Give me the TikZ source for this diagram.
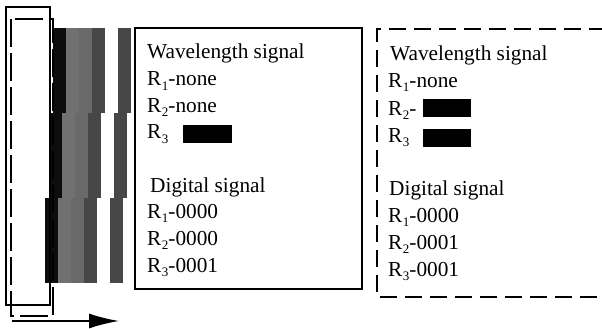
\documentclass[tikz,border=0pt]{standalone}
\usepackage{fontspec}
\setmainfont{Liberation Serif}
\usetikzlibrary{arrows.meta}
\definecolor{barblack}{HTML}{0D0D0D}
\definecolor{barlight}{HTML}{717171}
\definecolor{barmid}{HTML}{696969}
\definecolor{bardark}{HTML}{474747}
\tikzset{
  txt/.style={anchor=base west, inner sep=0pt, font=\fontsize{21.3}{25}\selectfont},
  frame/.style={draw=black, line width=1.2pt},
  longdash/.style={draw=black, line width=1.2pt, dash pattern=on 28pt off 6pt},
  boxdash/.style={draw=black, line width=1.2pt, dash pattern=on 17pt off 8pt},
  mark box/.style={fill=black},
}
\newcommand{\Rsub}[1]{R\kern0.5pt\raisebox{-4.5pt}{\fontsize{13}{13}\selectfont #1}}
\begin{document}
\begin{tikzpicture}[x=1pt, y=-1pt]
\useasboundingbox (0,0) rectangle (602,329);

% stepped colour bars, three rows shifted left row by row
\foreach \x/\ya/\yb in {53/28/113, 49/113/198, 45/198/283}{
  \fill[barblack] (\x,\ya) rectangle ++(13,\yb-\ya);
  \fill[barlight] (\x+13,\ya) rectangle ++(13,\yb-\ya);
  \fill[barmid]   (\x+26,\ya) rectangle ++(13,\yb-\ya);
  \fill[bardark]  (\x+39,\ya) rectangle ++(13,\yb-\ya);
  \fill[bardark]  (\x+65,\ya) rectangle ++(13,\yb-\ya);
}

% solid and dashed frames on the left
\draw[frame] (6,7) rectangle (50,305);
\draw[longdash] (11,19) rectangle (53,316);

% direction arrow
\coordinate (arrowstart) at (12,321);
\coordinate (arrowend) at (119,321);
\draw[line width=1.6pt, -{Latex[length=30pt, width=15pt]}] (arrowstart) -- (arrowend);

% middle box
\draw[frame] (135,28) rectangle (362,289);
\node[txt] (mw)  at (147,59)   {Wavelength signal};
\node[txt] (mr1) at (147,85.5) {\Rsub{1}-none};
\node[txt] (mr2) at (147,112)  {\Rsub{2}-none};
\node[txt] (mr3) at (147,138.5){\Rsub{3}};
\fill[mark box] (183,125) rectangle (232,143);
\node[txt] (md)  at (150,192)  {Digital signal};
\node[txt] (md1) at (147,218)  {\Rsub{1}-0000};
\node[txt] (md2) at (147,245)  {\Rsub{2}-0000};
\node[txt] (md3) at (147,272)  {\Rsub{3}-0001};

% right box, open on the right
\draw[boxdash] (606,29) -- (377,29) -- (377,297) -- (606,297);
\node[txt] (rw)  at (390,60)  {Wavelength signal};
\node[txt] (rr1) at (388,87)  {\Rsub{1}-none};
\node[txt] (rr2) at (388,115) {\Rsub{2}-};
\fill[mark box] (423,99) rectangle (471,117);
\node[txt] (rr3) at (388,142) {\Rsub{3}};
\fill[mark box] (423,129) rectangle (471,147);
\node[txt] (rd)  at (389,195) {Digital signal};
\node[txt] (rd1) at (388,222) {\Rsub{1}-0000};
\node[txt] (rd2) at (388,249) {\Rsub{2}-0001};
\node[txt] (rd3) at (388,276) {\Rsub{3}-0001};
\end{tikzpicture}
\end{document}
